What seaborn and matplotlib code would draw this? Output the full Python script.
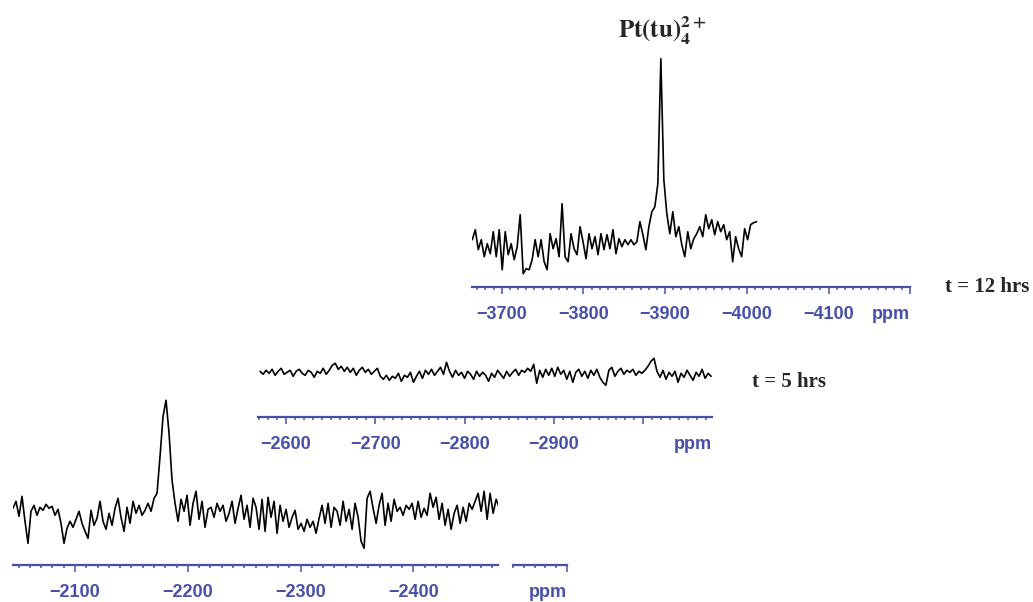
import numpy as np
import pandas as pd
import seaborn as sns
import matplotlib.pyplot as plt
from matplotlib.ticker import MultipleLocator

# 195Pt spectra, ppm range covered by each trace and the intensities
top_ppm_range = (-3664, -4012)
top_intensity = [7, 17, -3, 7, -10, 3, -7, 15, -10, 17, -23, 15, -8, 3, -13, 0,
                 32, -27, -22, -23, -13, 7, -10, 7, -15, -23, 13, -2, 8, -10, 43, -10,
                 -15, 13, -2, -8, 20, 5, -12, 13, -2, 10, -8, 13, -3, 12, -2, 17,
                 -7, 8, 0, 7, 2, 7, 2, 5, 25, 12, -3, 20, 35, 40, 63, 188,
                 67, 33, 13, 35, 10, 20, 2, -10, 15, -2, 8, 13, 20, 10, 32, 18,
                 27, 12, 25, 15, 22, 7, 15, -15, 10, -2, -10, 18, 7, 22, 24, 25]

mid_ppm_range = (-2571, -3076)
mid_intensity = [2, -1, 3, 0, 4, -2, 2, 5, -1, 1, 3, -3, 2, 4, 0, -2,
                 3, 1, -4, 2, 0, 5, -1, 3, 8, 10, 4, 7, 2, 6, 1, 5,
                 -2, 3, 6, 1, 4, -1, 2, 5, -3, -6, -2, -7, -3, -5, 0, -8,
                 -2, -4, 1, -9, -3, 2, -5, 3, -1, 4, -2, 2, 6, -1, 11, 2,
                 -4, 3, -2, 1, -5, 2, -1, -6, 2, -3, 1, -2, -8, 0, -4, 3,
                 -1, -5, 2, -3, 1, 4, -2, 3, 1, 5, 2, 9, -10, 3, -4, 4,
                 -2, 5, -3, 6, -1, 3, -6, 2, -9, 1, 4, -3, 2, -5, 3, -2,
                 4, -4, -9, -12, 3, 6, -3, 2, 5, -1, 3, 1, 4, -2, 2, 0,
                 3, 7, 12, 15, 2, -4, 3, -6, 1, -3, 2, -9, 0, -4, 3, -2,
                 -7, 1, -3, 4, -5, 0, -3]

bottom_ppm_range = (-2045, -2476)
bottom_intensity = [5, 12, -3, 17, -8, -30, 2, 8, -2, 6, 3, 9, 5, 7, -2, 4,
                    -10, -30, -15, -8, -14, -6, 2, -10, -18, -25, 3, -12, -5, 12, -8, -16,
                    0, -12, 5, 15, -4, -18, 6, -10, 12, 0, 8, -2, 3, 10, 2, 15,
                    20, 57, 97, 113, 80, 33, 10, -8, 14, 2, 18, -12, 10, 22, -6, 12,
                    -14, 4, 6, -4, 10, 2, 8, -8, 0, 12, -10, 5, 18, -6, 8, -14,
                    15, 6, -16, 14, -18, 16, -4, 12, -20, 8, -8, 4, -14, -4, 3, -16,
                    -10, -18, -6, -14, -8, -20, -5, 8, -10, 10, -14, 6, 2, -12, 12, -8,
                    4, -16, 10, -4, -28, -35, 15, 22, 5, -10, 8, 20, -12, 10, -8, 14,
                    2, 6, -2, 8, 4, 10, -6, 12, -4, 5, -2, 20, 6, 16, -6, 10,
                    -12, 4, -16, 0, 8, -10, 6, -8, 10, 4, 12, 20, 2, 22, -6, 20,
                    0, 14, 6]

top_ticks = [-3700, -3800, -3900, -4000, -4100, -4200]
mid_ticks = [-2600, -2700, -2800, -2900, -3000]
bottom_ticks = [-2100, -2200, -2300, -2400]
top_label = 't = 12 hrs'
mid_label = 't = 5 hrs'
peak_label = r'$\mathbf{Pt(tu)_4^{2+}}$'

W, H = 1033, 602
BLUE = '#4650a8'
TICK_SIZE = 13
PAD = 8.5

sns.set_style("white")
plt.rcParams['font.family'] = ['Liberation Sans', 'DejaVu Sans']
plt.rcParams['mathtext.fontset'] = 'stix'
fig = plt.figure(figsize=(W / 100, H / 100), dpi=100)


def px_rect(x0, x1, y_spine, y_top):
    return [x0 / W, 1 - y_spine / H, (x1 - x0) / W, (y_spine - y_top) / H]


def axis_style(ax, xlim, ylim, majors, labels):
    ax.set_xlim(*xlim)
    ax.set_ylim(*ylim)
    for side in ['top', 'left', 'right']:
        ax.spines[side].set_visible(False)
    ax.spines['bottom'].set_color(BLUE)
    ax.spines['bottom'].set_linewidth(1.6)
    ax.set_yticks([])
    ax.set_xticks(majors, labels=labels)
    ax.xaxis.set_minor_locator(MultipleLocator(10))
    ax.tick_params(axis='x', which='both', bottom=True)
    ax.tick_params(axis='x', which='major', direction='out', length=5, width=1.1,
                   color=BLUE, labelcolor=BLUE, labelsize=TICK_SIZE, pad=PAD)
    ax.tick_params(axis='x', which='minor', direction='out', length=2.4, width=1.1,
                   color=BLUE)
    for t in ax.get_xticklabels():
        t.set_fontweight('bold')
    ax.set_xlabel('')
    ax.set_ylabel('')
    ax.patch.set_alpha(0)


def panel(rect, xlim, ylim, ppm_range, intensity, majors, labels):
    ax = fig.add_axes(rect)
    df = pd.DataFrame({'ppm': np.linspace(*ppm_range, len(intensity)),
                       'intensity': intensity})
    sns.lineplot(data=df, x='ppm', y='intensity', ax=ax, color='black',
                 linewidth=1.2, estimator=None)
    axis_style(ax, xlim, ylim, majors, labels)
    return ax


def neg(v):
    return '\u2212' + str(abs(v))


ax_top = panel(px_rect(472.3, 910.2, 287, 50), (-3664, -4200), (-40.3, 196.7),
               top_ppm_range, top_intensity, top_ticks,
               [neg(v) for v in top_ticks[:-1]] + ['ppm'])
ax_mid = panel(px_rect(258.3, 712, 417, 340), (-2569, -3077), (-43.7, 33.3),
               mid_ppm_range, mid_intensity, mid_ticks,
               [neg(v) for v in mid_ticks[:-1]] + [''])
ax_bot = panel(px_rect(13, 498, 565, 390), (-2045, -2475), (-51.7, 123.3),
               bottom_ppm_range, bottom_intensity, bottom_ticks,
               [neg(v) for v in bottom_ticks])

# short broken axis segment at the end of the bottom spectrum
ax_seg = fig.add_axes(px_rect(513, 567, 565, 540))
axis_style(ax_seg, (-2550, -2600), (0, 1), [-2600], [''])

# "ppm" units, right-aligned on the axis end
ax_top.get_xticklabels()[-1].set_horizontalalignment('right')
for ax in (ax_mid, ax_seg):
    ax.annotate('ppm', xy=(1.0, 0), xycoords='axes fraction',
                xytext=(0, -(5 + PAD)), textcoords='offset points',
                ha='right', va='top', color=BLUE, fontsize=TICK_SIZE,
                fontweight='bold')

fig.text(945 / W, 1 - 287 / H, top_label, family='Liberation Serif',
         fontweight='bold', fontsize=15, va='center', ha='left')
fig.text(752 / W, 1 - 382 / H, mid_label, family='Liberation Serif',
         fontweight='bold', fontsize=15, va='center', ha='left')
fig.text(662 / W, 1 - 31 / H, peak_label, fontsize=18, va='center', ha='center')

plt.savefig('out.png', dpi=100)
